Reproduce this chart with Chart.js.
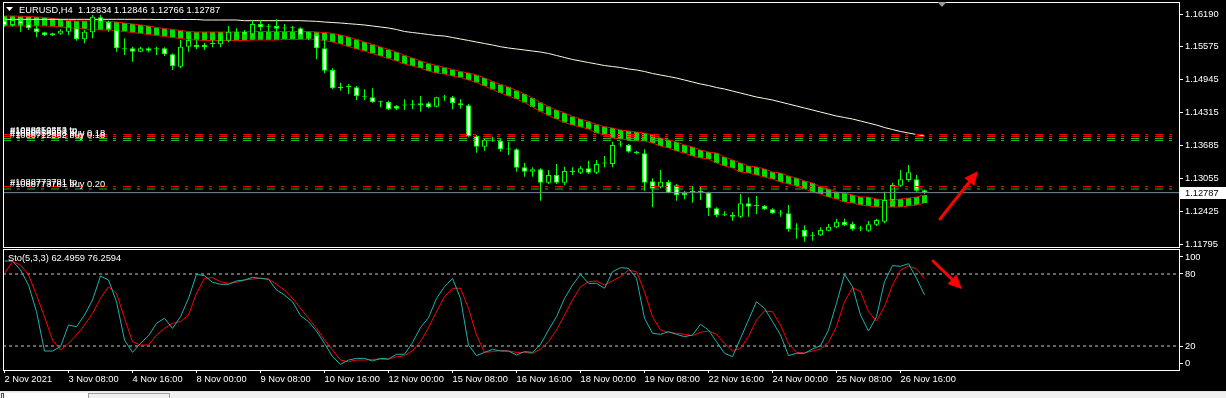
<!DOCTYPE html>
<html>
<head>
<meta charset="utf-8">
<title>EURUSD,H4</title>
<script src="https://cdn.jsdelivr.net/npm/chart.js@4.4.1/dist/chart.umd.min.js"></script>
<style>
  html, body { margin:0; padding:0; width:1226px; height:398px; background:#000; overflow:hidden; }
  canvas { position:absolute; left:0; }
  #mainChart { top:0; }
  #stoChart { top:248px; }
  #strip { position:absolute; left:0; top:391px; width:1226px; height:7px; background:#f0f0f0; border-top:1px solid #e4e4e4; box-sizing:border-box; }
  #boxA { position:absolute; left:1px; top:1px; width:3px; height:6px; border:1px solid #505050; border-bottom:none; box-sizing:border-box; }
  #tabA { position:absolute; left:5px; top:1px; width:83px; height:6px; background:#fff; }
  #tabB { position:absolute; left:88px; top:1px; width:82px; height:6px; border:1px solid #a0a0a0; border-bottom:none; box-sizing:border-box; }
</style>
</head>
<body>
<canvas id="mainChart" width="1226" height="250"></canvas>
<canvas id="stoChart" width="1226" height="144"></canvas>
<div id="strip"><div id="boxA"></div><div id="tabA"></div><div id="tabB"></div></div>
<script>
// ---------------- data ----------------
const symbolTitle = 'EURUSD,H4';
const timeLabels = ['2 Nov 2021','3 Nov 08:00','4 Nov 16:00','8 Nov 00:00','9 Nov 08:00','10 Nov 16:00','12 Nov 00:00','15 Nov 08:00','16 Nov 16:00','18 Nov 00:00','19 Nov 08:00','22 Nov 16:00','24 Nov 00:00','25 Nov 08:00','26 Nov 16:00'];
const tickBars = [0,8,16,24,32,40,48,56,64,72,80,88,96,104,112];
const priceTicks = [1.11795,1.12425,1.13055,1.13685,1.14315,1.14945,1.15575,1.16190];

const open = [1.16063,1.15981,1.16063,1.16000,1.15918,1.15842,1.15823,1.15815,1.15853,1.15918,
1.15708,1.15842,1.16127,1.16038,1.15886,1.15527,1.15537,1.15472,1.15537,1.15518,
1.15537,1.15423,1.15186,1.15567,1.15600,1.15606,1.15619,1.15613,1.15682,1.15834,
1.15853,1.15804,1.16000,1.15950,1.15962,1.15918,1.15918,1.15918,1.15809,1.15790,
1.15537,1.15124,1.14786,1.14805,1.14794,1.14615,1.14603,1.14520,1.14514,1.14438,
1.14451,1.14463,1.14489,1.14489,1.14424,1.14603,1.14603,1.14489,1.14451,1.13866,
1.13662,1.13777,1.13771,1.13613,1.13613,1.13270,1.13186,1.13232,1.12977,1.13123,
1.12977,1.13186,1.13167,1.13251,1.13167,1.13346,1.13333,1.13708,1.13695,1.13567,
1.13537,1.13003,1.12889,1.12990,1.12927,1.12780,1.12805,1.12805,1.12786,1.12489,
1.12361,1.12367,1.12329,1.12584,1.12538,1.12538,1.12470,1.12394,1.12394,1.12089,
1.12076,1.11967,1.11975,1.12062,1.12127,1.12234,1.12190,1.12108,1.12062,1.12177,
1.12234,1.12647,1.12919,1.13028,1.13041,1.12834];
const high = [1.16139,1.16139,1.16108,1.16044,1.15962,1.15853,1.15834,1.15899,1.16044,1.15937,
1.15886,1.16171,1.16171,1.16063,1.15899,1.15727,1.15567,1.15567,1.15556,1.15567,
1.15556,1.15442,1.15695,1.15771,1.15695,1.15644,1.15695,1.15834,1.15962,1.15918,
1.15886,1.16063,1.16076,1.16000,1.16089,1.16000,1.15962,1.15937,1.15853,1.15834,
1.15708,1.15156,1.14882,1.14857,1.14819,1.14756,1.14775,1.14539,1.14539,1.14457,
1.14565,1.14552,1.14628,1.14520,1.14615,1.14647,1.14628,1.14565,1.14476,1.13885,
1.13822,1.13853,1.13822,1.13758,1.13632,1.13358,1.13270,1.13251,1.13219,1.13333,
1.13281,1.13270,1.13295,1.13396,1.13409,1.13485,1.13758,1.13777,1.13714,1.13580,
1.13613,1.13060,1.13219,1.13028,1.12952,1.12818,1.12914,1.12914,1.12805,1.12508,
1.12432,1.12418,1.12761,1.12698,1.12723,1.12552,1.12489,1.12457,1.12552,1.12203,
1.12165,1.12043,1.12127,1.12190,1.12291,1.12291,1.12234,1.12152,1.12247,1.12291,
1.12805,1.12977,1.13219,1.13314,1.13123,1.12846];
const low = [1.15948,1.15948,1.15853,1.15886,1.15746,1.15771,1.15771,1.15796,1.15790,1.15682,
1.15632,1.15727,1.16013,1.15853,1.15472,1.15409,1.15282,1.15461,1.15461,1.15409,
1.15390,1.15124,1.15156,1.15472,1.15518,1.15505,1.15556,1.15556,1.15651,1.15771,
1.15790,1.15771,1.15872,1.15853,1.15823,1.15853,1.15853,1.15771,1.15695,1.15327,
1.15061,1.14756,1.14729,1.14666,1.14552,1.14552,1.14501,1.14413,1.14362,1.14362,
1.14362,1.14375,1.14329,1.14394,1.14413,1.14539,1.14375,1.14386,1.13841,1.13548,
1.13586,1.13758,1.13567,1.13504,1.13186,1.13091,1.13091,1.12634,1.12952,1.12952,
1.12927,1.13123,1.13142,1.13142,1.13142,1.13270,1.13270,1.13662,1.13548,1.13518,
1.12824,1.12508,1.12870,1.12775,1.12634,1.12660,1.12596,1.12647,1.12342,1.12317,
1.12342,1.12253,1.12310,1.12329,1.12380,1.12457,1.12380,1.12329,1.12043,1.11910,
1.11853,1.11872,1.11961,1.12051,1.12108,1.12152,1.12062,1.12051,1.12043,1.12152,
1.12203,1.12634,1.12900,1.12996,1.12805,1.12766];
const close = [1.15975,1.16076,1.16000,1.15918,1.15842,1.15785,1.15785,1.15872,1.15948,1.15708,
1.15853,1.16139,1.16044,1.15899,1.15537,1.15520,1.15472,1.15537,1.15491,1.15529,
1.15423,1.15200,1.15567,1.15695,1.15556,1.15556,1.15617,1.15695,1.15853,1.15832,
1.15804,1.16000,1.15937,1.15946,1.15910,1.15916,1.15920,1.15790,1.15806,1.15537,
1.15110,1.14775,1.14783,1.14802,1.14628,1.14612,1.14508,1.14517,1.14381,1.14386,
1.14448,1.14460,1.14451,1.14413,1.14603,1.14600,1.14489,1.14451,1.13866,1.13662,
1.13790,1.13774,1.13613,1.13610,1.13262,1.13186,1.13232,1.12977,1.13123,1.12977,
1.13199,1.13183,1.13251,1.13167,1.13333,1.13343,1.13695,1.13705,1.13567,1.13537,
1.12977,1.12862,1.12996,1.12786,1.12737,1.12737,1.12802,1.12802,1.12489,1.12356,
1.12358,1.12329,1.12584,1.12519,1.12535,1.12470,1.12394,1.12391,1.12089,1.12086,
1.11948,1.11964,1.12076,1.12138,1.12234,1.12171,1.12089,1.12105,1.12184,1.12266,
1.12647,1.12933,1.13041,1.13175,1.12824,1.12787];

const bandUpper = [1.16152,1.16152,1.16147,1.16143,1.16133,1.16124,1.16105,1.16086,1.16067,1.16057,
1.16057,1.16057,1.16057,1.16047,1.16038,1.16019,1.16000,1.15981,1.15962,1.15933,
1.15914,1.15895,1.15876,1.15857,1.15847,1.15847,1.15847,1.15847,1.15847,1.15847,
1.15847,1.15857,1.15857,1.15857,1.15857,1.15857,1.15857,1.15857,1.15857,1.15847,
1.15838,1.15819,1.15790,1.15752,1.15705,1.15657,1.15609,1.15562,1.15514,1.15466,
1.15400,1.15352,1.15295,1.15247,1.15209,1.15171,1.15133,1.15095,1.15066,1.15028,
1.14971,1.14904,1.14847,1.14800,1.14733,1.14666,1.14590,1.14504,1.14428,1.14362,
1.14304,1.14238,1.14190,1.14142,1.14085,1.14043,1.14019,1.13981,1.13961,1.13942,
1.13923,1.13885,1.13828,1.13790,1.13752,1.13695,1.13657,1.13600,1.13561,1.13542,
1.13466,1.13409,1.13352,1.13295,1.13276,1.13238,1.13180,1.13161,1.13104,1.13066,
1.13009,1.12971,1.12895,1.12857,1.12799,1.12780,1.12742,1.12704,1.12704,1.12666,
1.12647,1.12647,1.12666,1.12685,1.12704,1.12742];
const bandLower = [1.15962,1.15962,1.15962,1.15962,1.15962,1.15962,1.15956,1.15943,1.15933,1.15914,
1.15905,1.15895,1.15886,1.15886,1.15876,1.15857,1.15838,1.15819,1.15800,1.15781,
1.15762,1.15743,1.15724,1.15705,1.15695,1.15686,1.15686,1.15686,1.15686,1.15686,
1.15686,1.15695,1.15695,1.15695,1.15695,1.15705,1.15705,1.15705,1.15714,1.15705,
1.15686,1.15657,1.15619,1.15571,1.15524,1.15485,1.15438,1.15390,1.15343,1.15295,
1.15238,1.15200,1.15162,1.15104,1.15066,1.15047,1.15009,1.14981,1.14933,1.14885,
1.14819,1.14752,1.14685,1.14628,1.14571,1.14504,1.14419,1.14333,1.14257,1.14190,
1.14123,1.14076,1.14038,1.14000,1.13923,1.13885,1.13828,1.13809,1.13790,1.13771,
1.13771,1.13733,1.13676,1.13638,1.13580,1.13542,1.13485,1.13447,1.13428,1.13352,
1.13295,1.13257,1.13180,1.13161,1.13123,1.13085,1.13047,1.12990,1.12952,1.12914,
1.12857,1.12799,1.12761,1.12704,1.12666,1.12609,1.12590,1.12552,1.12533,1.12514,
1.12514,1.12514,1.12514,1.12533,1.12552,1.12590];
const maLine = [1.16089,1.16089,1.16089,1.16089,1.16089,1.16089,1.16089,1.16089,1.16089,1.16089,
1.16089,1.16089,1.16089,1.16089,1.16089,1.16089,1.16089,1.16089,1.16089,1.16086,
1.16086,1.16086,1.16086,1.16086,1.16086,1.16076,1.16076,1.16076,1.16076,1.16076,
1.16063,1.16063,1.16063,1.16063,1.16063,1.16063,1.16063,1.16063,1.16057,1.16051,
1.16038,1.16028,1.16019,1.16006,1.15994,1.15981,1.15962,1.15943,1.15924,1.15895,
1.15857,1.15838,1.15819,1.15800,1.15781,1.15771,1.15743,1.15714,1.15686,1.15657,
1.15628,1.15600,1.15567,1.15543,1.15524,1.15505,1.15485,1.15466,1.15438,1.15400,
1.15362,1.15324,1.15295,1.15266,1.15238,1.15209,1.15190,1.15171,1.15143,1.15124,
1.15095,1.15057,1.15028,1.15000,1.14971,1.14933,1.14895,1.14857,1.14828,1.14790,
1.14762,1.14723,1.14685,1.14647,1.14609,1.14581,1.14552,1.14514,1.14476,1.14438,
1.14400,1.14362,1.14323,1.14285,1.14247,1.14219,1.14190,1.14152,1.14114,1.14076,
1.14028,1.13990,1.13952,1.13923,1.13895,1.13866];

const stochK = [90.8,90.8,83.3,70.8,48.6,15.8,15.8,19.4,37.5,36.1,
45.8,58.3,78.3,75.0,56.9,25.0,14.7,22.2,28.6,38.9,
43.1,34.7,44.4,59.7,79.7,78.6,73.1,71.4,71.4,74.2,
75.0,77.2,76.4,75.6,66.7,62.5,56.9,45.3,40.3,32.5,
22.2,11.1,4.7,8.3,9.7,9.7,7.5,9.7,9.2,13.1,
13.1,22.9,35.4,43.6,59.7,69.4,76.4,59.7,20.8,12.0,
14.7,17.2,15.8,15.8,12.5,15.3,14.7,21.4,33.3,44.4,
59.7,70.8,79.7,72.2,72.2,68.1,81.9,85.3,84.7,76.4,
43.1,30.6,29.7,31.9,29.7,27.8,29.2,38.1,33.3,23.6,
13.9,11.1,26.4,41.7,56.9,51.4,40.3,29.2,12.0,13.9,
13.9,17.5,20.3,33.3,55.6,79.7,69.4,45.8,32.5,44.4,
73.6,87.0,86.4,88.6,76.4,62.4959];
const stochD = [80.6,90.3,87.5,79.2,62.5,44.4,25.0,16.7,22.2,29.2,
37.5,47.2,59.7,69.4,63.9,43.1,23.6,20.8,20.8,29.2,
34.7,38.9,40.3,45.8,63.9,76.4,76.9,73.6,72.2,73.1,
75.0,75.8,76.4,75.8,71.4,66.7,59.7,51.4,43.1,34.7,
25.0,16.7,8.3,6.9,8.3,8.3,8.9,8.9,8.9,11.1,
11.9,16.2,23.6,35.3,48.6,61.1,68.1,68.1,51.4,29.2,
14.7,15.3,16.4,15.8,14.7,14.7,13.9,17.5,23.6,33.3,
45.8,58.3,69.4,73.6,74.2,70.8,74.2,77.8,83.3,81.9,
65.3,44.4,33.3,31.4,30.6,29.7,28.6,31.4,32.5,29.7,
22.2,15.8,18.1,27.8,41.7,49.2,48.6,37.5,22.2,14.7,
14.3,15.8,17.5,23.1,36.1,56.9,68.6,65.3,48.6,40.8,
52.8,70.8,83.3,86.7,84.2,76.2594];
const stochLevels = [20, 80];
const stochTickValues = [5.83, 20, 80, 94.17];
const stochTickLabels = ['0', '20', '80', '100'];

const orderLevels = [1.13895, 1.13857, 1.13819, 1.13781, 1.12904, 1.12857];
const orderColors = ['#ff0000', '#ff0000', '#1fb51f', '#1fb51f', '#ff0000', '#1fb51f'];
const orderLabels = ['#1088650353 tp', '#1088712562 tp', '#1088650353 buy 0.18', '#1088712562 buy 0.18', '#1088773781 tp', '#1088773781 buy 0.20'];

const arrowMain = [116.94, 1.12285, 121.69, 1.13199];
const arrowSto = [116.06, 90.8, 119.69, 67.5];
const shiftMarkBar = 117.19;

// ---------------- helpers ----------------
const X_MIN = -0.1875, X_MAX = 146.8125;
const Y_MIN = 1.11752, Y_MAX = 1.16419;
const FAMILY = '"Liberation Sans", Arial, sans-serif';
const FS = 9.3;
const CSS_FONT = FS + 'px ' + FAMILY;
const bars = open.map((_, i) => i);
const last = close.length - 1;

function hLine(v) { return [{x: X_MIN, y: v}, {x: X_MAX, y: v}]; }

function drawArrow(ctx, x0, y0, x1, y1) {
  const a = Math.atan2(y1 - y0, x1 - x0);
  const hl = 14, hw = 6.5;
  const bx = x1 - hl * Math.cos(a), by = y1 - hl * Math.sin(a);
  ctx.strokeStyle = '#ff0000';
  ctx.fillStyle = '#ff0000';
  ctx.lineWidth = 3;
  ctx.lineCap = 'round';
  ctx.beginPath(); ctx.moveTo(x0, y0); ctx.lineTo(bx, by); ctx.stroke();
  ctx.beginPath();
  ctx.moveTo(x1, y1);
  ctx.lineTo(bx + hw * Math.sin(a), by - hw * Math.cos(a));
  ctx.lineTo(bx - hw * Math.sin(a), by + hw * Math.cos(a));
  ctx.closePath(); ctx.fill();
}

const axisTickStyle = {
  display: true, drawOnChartArea: false, drawTicks: true, color: '#ffffff', lineWidth: 1
};

// ---------------- main chart ----------------
const mainDecor = {
  id: 'mainDecor',
  afterDraw(chart) {
    const {ctx, chartArea: ca, scales: {x, y}} = chart;
    ctx.save();
    ctx.strokeStyle = '#ffffff';
    ctx.lineWidth = 1;
    ctx.strokeRect(ca.left + 0.5, ca.top + 0.5, ca.right - ca.left, ca.bottom - ca.top);
    // order labels
    ctx.font = CSS_FONT;
    ctx.fillStyle = '#ffffff';
    ctx.textBaseline = 'alphabetic';
    ctx.textAlign = 'left';
    orderLevels.forEach((v, i) => {
      ctx.fillText(orderLabels[i], ca.left + 7, Math.round(y.getPixelForValue(v)) - 2);
    });
    // header
    ctx.beginPath();
    ctx.moveTo(6, 7); ctx.lineTo(13, 7); ctx.lineTo(9.5, 11); ctx.closePath();
    ctx.fill();
    ctx.textBaseline = 'middle';
    ctx.fillText(symbolTitle + '  ' + [open[last], high[last], low[last], close[last]].map(v => v.toFixed(5)).join(' '), 19, 10.5);
    // chart shift marker
    const sx = x.getPixelForValue(shiftMarkBar);
    ctx.fillStyle = '#9a9a9a';
    ctx.beginPath();
    ctx.moveTo(sx - 4.5, ca.top); ctx.lineTo(sx + 4.5, ca.top); ctx.lineTo(sx, ca.top + 5); ctx.closePath();
    ctx.fill();
    // current price box
    const py = Math.round(y.getPixelForValue(close[last]));
    ctx.fillStyle = '#ffffff';
    ctx.fillRect(ca.right + 1, py - 6, 47, 12);
    ctx.fillStyle = '#000000';
    ctx.fillText(close[last].toFixed(5), ca.right + 6, py + 0.5);
    // arrow
    drawArrow(ctx, x.getPixelForValue(arrowMain[0]), y.getPixelForValue(arrowMain[1]),
                   x.getPixelForValue(arrowMain[2]), y.getPixelForValue(arrowMain[3]));
    ctx.restore();
  }
};

const mainDatasets = [];
orderLevels.forEach((v, i) => mainDatasets.push({
  type: 'line', data: hLine(v), borderColor: orderColors[i], borderWidth: 1,
  borderDash: [8, 6, 3, 7], pointRadius: 0, order: 0
}));
mainDatasets.push({
  type: 'line', data: hLine(close[last]), borderColor: '#7b8a99', borderWidth: 1, pointRadius: 0, order: 0.5
});
mainDatasets.push({
  type: 'bar', order: 1, grouped: false,
  data: bars.map(i => ({x: i, y: [Math.min(open[i], close[i]), Math.max(open[i], close[i])]})),
  backgroundColor: bars.map(i => close[i] > open[i] ? '#000000' : '#ffffff'),
  borderColor: '#00ff00', borderWidth: 1, borderSkipped: false,
  barThickness: 5, minBarLength: 1, inflateAmount: 0
});
mainDatasets.push({
  type: 'bar', order: 2, grouped: false,
  data: bars.map(i => ({x: i, y: [low[i], high[i]]})),
  backgroundColor: '#00ff00', borderWidth: 0, barThickness: 1, inflateAmount: 0
});
mainDatasets.push({
  type: 'line', order: 2.5, data: bars.map(i => ({x: i, y: maLine[i]})),
  borderColor: '#fff8dc', borderWidth: 1, pointRadius: 0, tension: 0
});
mainDatasets.push({
  type: 'line', order: 3, data: bars.map(i => ({x: i, y: bandUpper[i]})),
  borderColor: '#ff0000', borderWidth: 1, pointRadius: 0, tension: 0
});
mainDatasets.push({
  type: 'line', order: 3, data: bars.map(i => ({x: i, y: bandLower[i]})),
  borderColor: '#ff0000', borderWidth: 1, pointRadius: 0, tension: 0
});
mainDatasets.push({
  type: 'bar', order: 4, grouped: false,
  data: bars.map(i => ({x: i, y: [bandLower[i], bandUpper[i]]})),
  backgroundColor: '#00e000', borderWidth: 0, barThickness: 5, inflateAmount: 0
});

new Chart(document.getElementById('mainChart'), {
  type: 'line',
  data: {datasets: mainDatasets},
  options: {
    responsive: false, animation: false, devicePixelRatio: 1, events: [],
    layout: {padding: {left: 3, top: 2, right: 0, bottom: 3}, autoPadding: false},
    plugins: {legend: {display: false}, tooltip: {enabled: false}},
    scales: {
      x: {type: 'linear', min: X_MIN, max: X_MAX, bounds: 'data', offset: false, display: false},
      y: {
        type: 'linear', position: 'right', min: Y_MIN, max: Y_MAX, bounds: 'data',
        afterBuildTicks: s => { s.ticks = priceTicks.map(v => ({value: v})); },
        afterFit: s => { s.width = 47; s.paddingTop = 0; s.paddingBottom = 0; },
        ticks: {color: '#ffffff', font: {family: FAMILY, size: FS}, padding: 2, autoSkip: false,
                callback: v => Number(v).toFixed(5)},
        grid: Object.assign({tickLength: 4}, axisTickStyle),
        border: {display: false}
      }
    }
  },
  plugins: [mainDecor]
});

// ---------------- stochastic chart ----------------
const stoDecor = {
  id: 'stoDecor',
  afterDraw(chart) {
    const {ctx, chartArea: ca, scales: {x, y}} = chart;
    ctx.save();
    ctx.strokeStyle = '#ffffff';
    ctx.lineWidth = 1;
    ctx.strokeRect(ca.left + 0.5, ca.top - 0.5, ca.right - ca.left, ca.bottom - ca.top + 1);
    ctx.font = CSS_FONT;
    ctx.fillStyle = '#ffffff';
    ctx.textBaseline = 'middle';
    ctx.fillText('Sto(5,3,3) ' + stochK[last].toFixed(4) + ' ' + stochD[last].toFixed(4), ca.left + 5, ca.top + 8.5);
    drawArrow(ctx, x.getPixelForValue(arrowSto[0]), y.getPixelForValue(arrowSto[1]),
                   x.getPixelForValue(arrowSto[2]), y.getPixelForValue(arrowSto[3]));
    ctx.restore();
  }
};

const stoDatasets = stochLevels.map(v => ({
  type: 'line', data: hLine(v), borderColor: '#c8c8c8', borderWidth: 1, borderDash: [3, 3],
  pointRadius: 0, order: 3
}));
stoDatasets.push({
  type: 'line', order: 1, data: bars.map(i => ({x: i, y: stochK[i]})),
  borderColor: '#20b2aa', borderWidth: 1, pointRadius: 0, tension: 0
});
stoDatasets.push({
  type: 'line', order: 2, data: bars.map(i => ({x: i, y: stochD[i]})),
  borderColor: '#ff0000', borderWidth: 1, pointRadius: 0, tension: 0
});

new Chart(document.getElementById('stoChart'), {
  type: 'line',
  data: {datasets: stoDatasets},
  options: {
    responsive: false, animation: false, devicePixelRatio: 1, events: [],
    layout: {padding: {left: 3, top: 2, right: 0, bottom: 0}, autoPadding: false},
    plugins: {legend: {display: false}, tooltip: {enabled: false}},
    scales: {
      x: {
        type: 'linear', min: X_MIN, max: X_MAX, bounds: 'data', offset: false,
        afterBuildTicks: s => { s.ticks = tickBars.map(v => ({value: v})); },
        afterFit: s => { s.height = 22; s.paddingLeft = 0; s.paddingRight = 0; },
        ticks: {color: '#ffffff', font: {family: FAMILY, size: FS}, padding: 1, align: 'start',
                maxRotation: 0, minRotation: 0, autoSkip: false,
                callback: v => { const i = tickBars.indexOf(Math.round(v)); return i >= 0 ? timeLabels[i] : ''; }},
        grid: Object.assign({tickLength: 3}, axisTickStyle),
        border: {display: false}
      },
      y: {
        type: 'linear', position: 'right', min: 0, max: 100, bounds: 'data',
        afterBuildTicks: s => { s.ticks = stochTickValues.map(v => ({value: v})); },
        afterFit: s => { s.width = 47; s.paddingTop = 0; s.paddingBottom = 0; },
        ticks: {color: '#ffffff', font: {family: FAMILY, size: FS}, padding: 2, autoSkip: false,
                callback: v => { const i = stochTickValues.indexOf(v); return i >= 0 ? stochTickLabels[i] : ''; }},
        grid: Object.assign({tickLength: 4}, axisTickStyle),
        border: {display: false}
      }
    }
  },
  plugins: [stoDecor]
});
</script>
</body>
</html>
